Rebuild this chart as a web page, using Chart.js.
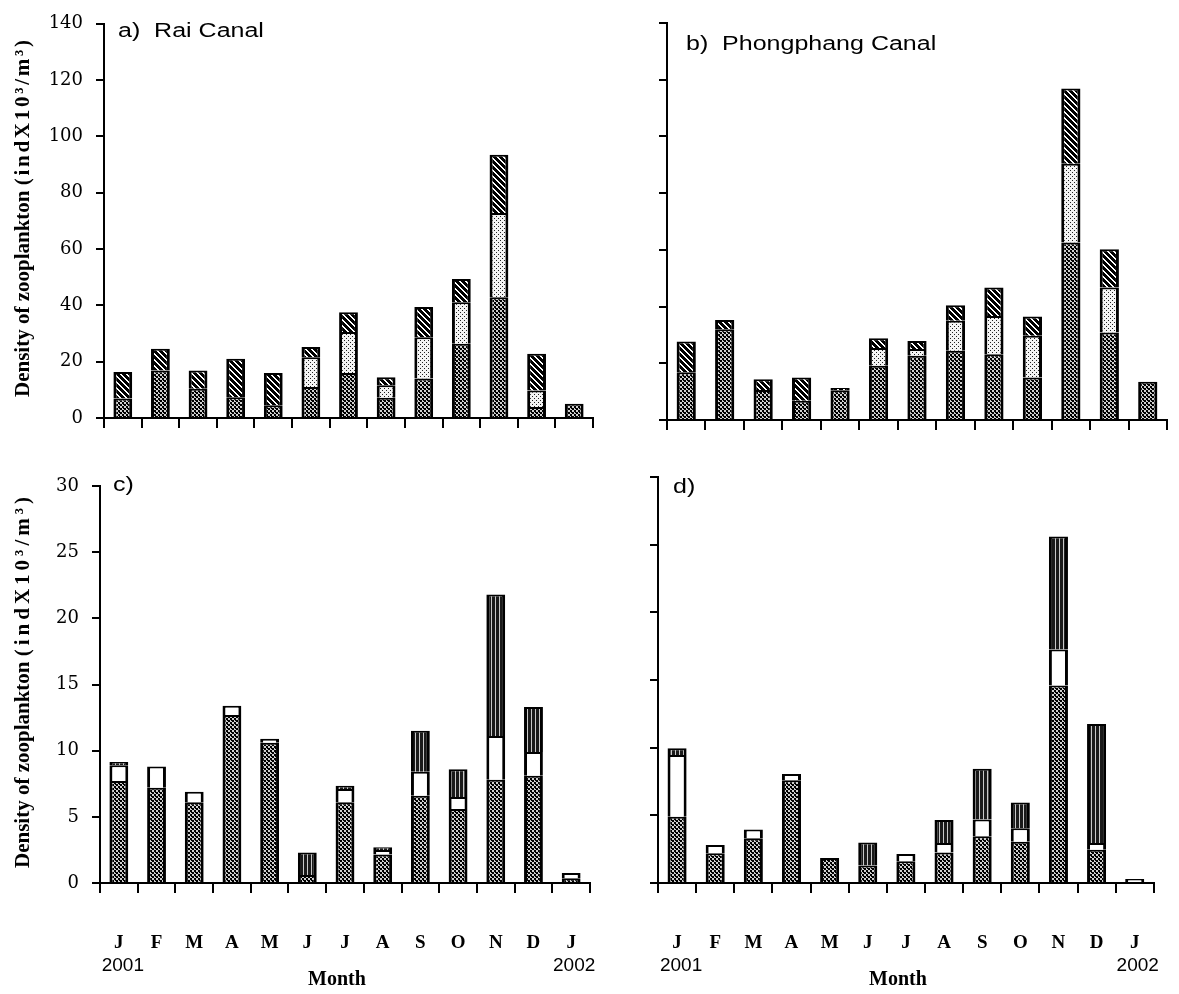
<!DOCTYPE html>
<html>
<head>
<meta charset="utf-8">
<script src="https://cdn.jsdelivr.net/npm/chart.js@4.4.1/dist/chart.umd.min.js"></script>
<style>
  html, body { margin: 0; padding: 0; background: #fff; }
  #wrap { position: relative; width: 1179px; height: 994px; overflow: hidden; background: #fff; }
  #wrap canvas { position: absolute; left: 0; top: 0; }
</style>
</head>
<body>
<div id="wrap">
  <canvas id="panelA" width="1179" height="994"></canvas>
  <canvas id="panelB" width="1179" height="994"></canvas>
  <canvas id="panelC" width="1179" height="994"></canvas>
  <canvas id="panelD" width="1179" height="994"></canvas>
</div>
<script>
// ---- data -------------------------------------------------------------
const months = ['J', 'F', 'M', 'A', 'M', 'J', 'J', 'A', 'S', 'O', 'N', 'D', 'J'];
const yearLabels = ['2001', '2002'];
const ticksTop = [0, 20, 40, 60, 80, 100, 120, 140];
const ticksBottom = [0, 5, 10, 15, 20, 25, 30];

// a) Rai Canal
const raiCrossA = [6.9, 16.9, 10.4, 7.4, 4.5, 11.0, 16.0, 7.2, 14.0, 26.4, 42.9, 3.9, 5.1];
const raiDotA   = [0, 0, 0, 0, 0, 10.6, 14.5, 4.4, 14.7, 14.7, 29.9, 5.9, 0];
const raiHatchA = [9.4, 7.7, 6.5, 13.6, 11.5, 3.6, 7.1, 2.9, 10.7, 8.3, 20.7, 13.0, 0];

// b) Phongphang Canal
const phCrossB = [16.8, 32.0, 10.6, 6.8, 10.5, 19.1, 22.7, 24.4, 23.2, 15.0, 62.6, 30.9, 13.5];
const phDotB   = [0, 0, 0, 0, 0, 6.3, 2.3, 10.6, 13.5, 14.7, 27.8, 15.8, 0];
const phHatchB = [10.9, 3.3, 3.8, 8.2, 0.8, 3.4, 2.9, 5.5, 10.0, 6.8, 26.5, 13.5, 0];

// c) Rai Canal
const raiCrossC = [7.7, 7.2, 6.1, 12.7, 10.6, 0.6, 6.1, 2.15, 6.6, 5.6, 7.8, 8.1, 0.35];
const raiOpenC  = [1.2, 1.6, 0.8, 0.7, 0.3, 0, 1.0, 0.35, 1.8, 0.9, 3.3, 1.8, 0.4];
const raiLinedC = [0.25, 0, 0, 0, 0, 1.7, 0.25, 0.2, 3.1, 2.1, 10.7, 3.4, 0];

// d) Phongphang Canal
const phCrossD = [4.9, 2.2, 3.3, 7.6, 1.85, 1.3, 1.6, 2.25, 3.45, 3.05, 14.6, 2.45, 0];
const phOpenD  = [4.55, 0.6, 0.65, 0.45, 0, 0, 0.55, 0.7, 1.25, 1.0, 2.65, 0.5, 0.3];
const phLinedD = [0.5, 0, 0, 0, 0, 1.7, 0, 1.7, 3.75, 1.9, 8.35, 8.8, 0];

// ---- fill patterns ----------------------------------------------------
function makePattern(w, h, paint) {
  const c = document.createElement('canvas');
  c.width = w; c.height = h;
  const g = c.getContext('2d');
  paint(g, w, h);
  return g.createPattern(c, 'repeat');
}
const patCross = makePattern(4, 4, (g) => {
  g.fillStyle = '#d0d0d0'; g.fillRect(0, 0, 4, 4);
  g.fillStyle = '#000';
  g.fillRect(0, 0, 2, 2); g.fillRect(2, 2, 2, 2);
  g.fillRect(3, 0, 1, 1);
});
const patDots = makePattern(4, 4, (g) => {
  g.fillStyle = '#f4f4f4'; g.fillRect(0, 0, 4, 4);
  g.fillStyle = '#222';
  g.fillRect(0, 0, 1, 1); g.fillRect(2, 2, 1, 1);
});
const patHatch = makePattern(6, 6, (g, w, h) => {
  g.fillStyle = '#fff'; g.fillRect(0, 0, w, h);
  g.fillStyle = '#000';
  for (let x = 0; x < w; x++) for (let y = 0; y < h; y++) {
    if (((x - y + 6) % 6) < 4) g.fillRect(x, y, 1, 1);
  }
});
const patLines = makePattern(4, 1, (g) => {
  g.fillStyle = '#1a1a1a'; g.fillRect(0, 0, 4, 1);
  g.fillStyle = '#c8c8c8'; g.fillRect(3, 0, 1, 1);
});

// ---- shared drawing helpers -------------------------------------------
const PAGE_W = 1179, PAGE_H = 994;
const AXIS_W = 100;

function drawWideText(ctx, text, x, y, sx) {
  ctx.save();
  ctx.translate(x, y);
  ctx.scale(sx, 1);
  ctx.fillText(text, 0, 0);
  ctx.restore();
}

function drawYTitle(ctx, cx, yBottom, yTop) {
  ctx.save();
  ctx.translate(cx, yBottom);
  ctx.rotate(-Math.PI / 2);
  ctx.font = 'bold 21px "Liberation Serif"';
  ctx.fillStyle = '#000';
  ctx.textBaseline = 'middle';
  ctx.textAlign = 'left';
  const head = 'Density of zooplankton ';
  ctx.fillText(head, 0, 0);
  let x = ctx.measureText(head).width;
  const unit = Array.from('(indX10³/m³)');
  const widths = unit.map(ch => ctx.measureText(ch).width);
  const sum = widths.reduce((a, b) => a + b, 0);
  const gap = Math.max(0, ((yBottom - yTop) - x - sum) / (unit.length - 1));
  unit.forEach((ch, i) => { ctx.fillText(ch, x, 0); x += widths[i] + gap; });
  ctx.restore();
}

function panelTextPlugin(cfg) {
  return {
    id: 'panelText',
    afterDraw(chart) {
      const ctx = chart.ctx;
      ctx.save();
      ctx.fillStyle = '#000';
      ctx.textBaseline = 'alphabetic';
      ctx.textAlign = 'left';
      ctx.font = '20px "Liberation Sans"';
      drawWideText(ctx, cfg.title, cfg.titleX, cfg.titleY, 1.25);

      if (cfg.yTitle) drawYTitle(ctx, 24, cfg.yTitle[0], cfg.yTitle[1]);

      if (cfg.showMonths) {
        const xs = chart.scales.x;
        const yearY = 966;
        ctx.textAlign = 'center';
        ctx.textBaseline = 'middle';
        ctx.font = '19px "Liberation Sans"';
        ctx.fillText(yearLabels[0], xs.getPixelForValue(0) + 4, yearY);
        ctx.fillText(yearLabels[1], xs.getPixelForValue(months.length - 1) + 3, yearY);
        ctx.font = 'bold 20px "Liberation Serif"';
        const area = chart.chartArea;
        ctx.fillText('Month', (area.left + area.right) / 2 - 8, 980);
      }
      ctx.restore();
    }
  };
}

function makePanel(id, area, series, fills, yMax, tickList, opts) {
  const xH = opts.showMonths ? PAGE_H - area.bottom : 20;
  const datasets = series.map((data, i) => ({
    label: 'Group ' + (i + 1),
    data: data,
    backgroundColor: fills[i],
    borderColor: '#000',
    borderWidth: { top: 2, left: 3, right: 3, bottom: 0 },
    borderSkipped: false,
    inflateAmount: 0,
    barPercentage: 0.5,
    categoryPercentage: 1.0
  }));
  return new Chart(document.getElementById(id), {
    type: 'bar',
    data: { labels: months, datasets },
    options: {
      responsive: false,
      animation: false,
      devicePixelRatio: 1,
      layout: {
        padding: {
          left: area.left - AXIS_W,
          top: area.top,
          right: PAGE_W - area.right,
          bottom: PAGE_H - area.bottom - xH
        }
      },
      plugins: { legend: { display: false }, tooltip: { enabled: false }, title: { display: false } },
      scales: {
        x: {
          type: 'category',
          stacked: true,
          offset: true,
          grid: { offset: true, drawOnChartArea: false, drawTicks: true, tickLength: 10, color: '#000', lineWidth: 2 },
          border: { display: true, color: '#000', width: 2 },
          ticks: {
            display: !!opts.showMonths,
            color: '#000',
            font: { family: 'Liberation Serif', size: 19, weight: 'bold' },
            padding: 39,
            maxRotation: 0,
            autoSkip: false
          },
          afterFit(s) { s.height = xH; }
        },
        y: {
          stacked: true,
          min: 0,
          max: yMax,
          afterBuildTicks(s) { s.ticks = tickList.map(v => ({ value: v })); },
          grid: { drawOnChartArea: false, drawTicks: true, tickLength: 8, color: '#000', lineWidth: 2 },
          border: { display: true, color: '#000', width: 2 },
          ticks: {
            display: !!opts.showYLabels,
            color: '#000',
            font: { family: 'DejaVu Serif', size: 18 },
            padding: 13
          },
          afterFit(s) { s.width = AXIS_W; }
        }
      }
    },
    plugins: [panelTextPlugin(opts)]
  });
}

// ---- panels -----------------------------------------------------------
makePanel('panelA', { left: 104, top: 23, right: 593, bottom: 418 },
  [raiCrossA, raiDotA, raiHatchA], [patCross, patDots, patHatch], 140, ticksTop,
  { showYLabels: true, title: 'a)  Rai Canal', titleX: 118, titleY: 37, yTitle: [397, 40] });

makePanel('panelB', { left: 667, top: 23, right: 1167, bottom: 420 },
  [phCrossB, phDotB, phHatchB], [patCross, patDots, patHatch], 140, ticksTop,
  { showYLabels: false, title: 'b)  Phongphang Canal', titleX: 686, titleY: 50 });

makePanel('panelC', { left: 100, top: 486, right: 590, bottom: 883 },
  [raiCrossC, raiOpenC, raiLinedC], [patCross, '#ffffff', patLines], 30, ticksBottom,
  { showYLabels: true, showMonths: true, title: 'c)', titleX: 113, titleY: 491, yTitle: [868, 497] });

makePanel('panelD', { left: 658, top: 477, right: 1165, bottom: 883 },
  [phCrossD, phOpenD, phLinedD], [patCross, '#ffffff', patLines], 30, ticksBottom,
  { showYLabels: false, showMonths: true, title: 'd)', titleX: 673, titleY: 493 });
</script>
</body>
</html>
